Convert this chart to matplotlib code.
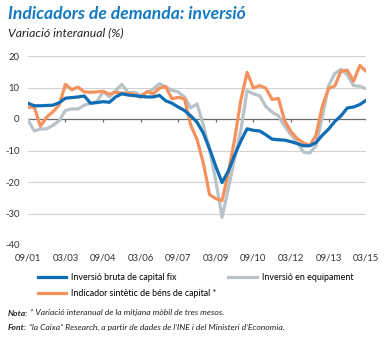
import numpy as np
import pandas as pd
import matplotlib
matplotlib.use("Agg")
import matplotlib.pyplot as plt
import matplotlib.dates as mdates

# Quarterly observations, Sep 2001 - Mar 2015
dates = pd.date_range("2001-09-01", "2015-03-01", freq="3MS")

inversio_bruta = [
    5.0, 4.2, 4.2, 4.3, 4.4, 5.2, 6.6, 6.8, 7.0, 7.3,
    5.0, 5.2, 5.5, 5.3, 7.0, 8.0, 7.6, 7.4, 7.2, 7.0,
    7.0, 7.5, 5.8, 5.0, 3.8, 2.7, 1.0, -1.0, -4.5, -9.5,
    -15.0, -20.2, -16.5, -11.5, -7.0, -3.1, -3.6, -3.8, -5.0, -6.4,
    -6.6, -6.7, -7.2, -7.8, -8.5, -8.5, -7.5, -5.2, -3.2, -0.8,
    1.0, 3.5, 3.8, 4.6, 5.9,
]

inversio_equipament = [
    -0.3, -3.8, -3.2, -3.1, -2.0, -0.5, 2.7, 3.2, 3.2, 4.4,
    5.0, 5.5, 8.7, 7.0, 9.0, 11.0, 8.3, 8.5, 7.5, 8.4,
    9.5, 11.2, 10.2, 9.1, 8.6, 7.0, 3.5, 4.8, -2.0, -9.8,
    -19.5, -31.2, -22.0, -12.5, -3.7, 9.0, 8.0, 7.4, 4.0, 2.2,
    1.0, -2.3, -5.0, -7.5, -10.5, -10.8, -8.5, 0.5, 10.5, 14.4,
    15.8, 14.0, 10.6, 10.4, 9.6,
]

indicador_sintetic = [
    3.7, 3.8, -2.3, 0.6, 2.3, 4.5, 11.0, 9.3, 10.1, 8.6,
    8.5, 8.6, 8.8, 7.9, 8.5, 8.2, 8.2, 7.8, 6.9, 8.7,
    8.0, 9.8, 10.3, 6.4, 6.9, 6.4, -2.0, -6.5, -14.0, -24.0,
    -25.3, -25.9, -17.0, -6.5, 5.9, 14.8, 9.8, 10.6, 9.8, 6.2,
    6.5, -0.5, -4.0, -6.2, -7.6, -8.4, -5.2, 4.0, 9.7, 10.5,
    15.2, 15.5, 12.0, 17.0, 15.2,
]

series_labels = [
    "Inversió bruta de capital fix",
    "Inversió en equipament",
    "Indicador sintètic de béns de capital *",
]

y_ticks = [-40, -30, -20, -10, 0, 10, 20]
x_ticks = pd.date_range("2001-09-01", "2015-03-01", freq="18MS")

BLUE = "#0f6db6"
GREY = "#b9c3c7"
ORANGE = "#f4925e"
TITLE_BLUE = "#1479c1"
TEXT = "#222222"

plt.rcParams["font.family"] = ["Lato", "DejaVu Sans"]

fig = plt.figure(figsize=(3.87, 3.38), dpi=100)
ax = fig.add_axes([28 / 387, 1 - 245 / 338, 338 / 387, 189 / 338])

ax.plot(dates, inversio_equipament, color=GREY, lw=2.3, zorder=3, label=series_labels[1])
ax.plot(dates, indicador_sintetic, color=ORANGE, lw=2.3, zorder=4, label=series_labels[2])
ax.plot(dates, inversio_bruta, color=BLUE, lw=2.3, zorder=5, label=series_labels[0])

ax.set_xlim(dates[0], dates[-1])
ax.set_ylim(-40, 20)
ax.set_yticks(y_ticks)
ax.set_yticklabels([str(v) for v in y_ticks])
ax.set_xticks(x_ticks)
ax.xaxis.set_major_formatter(mdates.DateFormatter("%m/%y"))

for v in y_ticks:
    if v != 0:
        ax.axhline(v, color="#d2d2d2", lw=0.8, zorder=1)
ax.axhline(0, color="#6d6d6d", lw=0.9, zorder=2)
ax.vlines(x_ticks[1:], -0.9, 0, color="#6d6d6d", lw=0.9, zorder=2)

for s in ax.spines.values():
    s.set_visible(False)
ax.tick_params(axis="both", length=0, labelsize=6.8, colors="#333333")
ax.tick_params(axis="y", pad=6.0)
ax.tick_params(axis="x", pad=6)

handles, labels = ax.get_legend_handles_labels()
# column-first fill: blue and orange in the first column, grey in the second
fig.legend([handles[2], handles[1], handles[0]],
           [labels[2], labels[1], labels[0]],
           ncol=2, loc="center left", bbox_to_anchor=(38 / 387, 1 - 285.5 / 338),
           frameon=False, fontsize=6.4, handlelength=3.2, handletextpad=0.55,
           columnspacing=1.3, labelspacing=0.8, borderaxespad=0, borderpad=0)

fig.text(8 / 387, 1 - 14 / 338, "Indicadors de demanda: inversió", color=TITLE_BLUE,
         fontsize=12.6, fontweight="bold", style="italic", va="center", ha="left")
fig.text(8 / 387, 1 - 33 / 338, "Variació interanual (%)", color=TEXT,
         fontsize=8.8, style="italic", va="center", ha="left")

renderer = fig.canvas.get_renderer()


def note_line(y_px, head, body):
    t = fig.text(8 / 387, 1 - y_px / 338, head, fontsize=6.1, style="italic",
                 fontweight="bold", va="center", ha="left", color=TEXT)
    w = t.get_window_extent(renderer).width
    fig.text((8 + w + 2) / 387, 1 - y_px / 338, body, fontsize=6.1, style="italic",
             va="center", ha="left", color=TEXT)


note_line(313, "Nota:", "* Variació interanual de la mitjana mòbil de tres mesos.")
note_line(327, "Font:", "\u201cla Caixa\u201d Research, a partir de dades de l\u2019INE i del Ministeri d\u2019Economia.")

fig.savefig("out.png", dpi=100)
